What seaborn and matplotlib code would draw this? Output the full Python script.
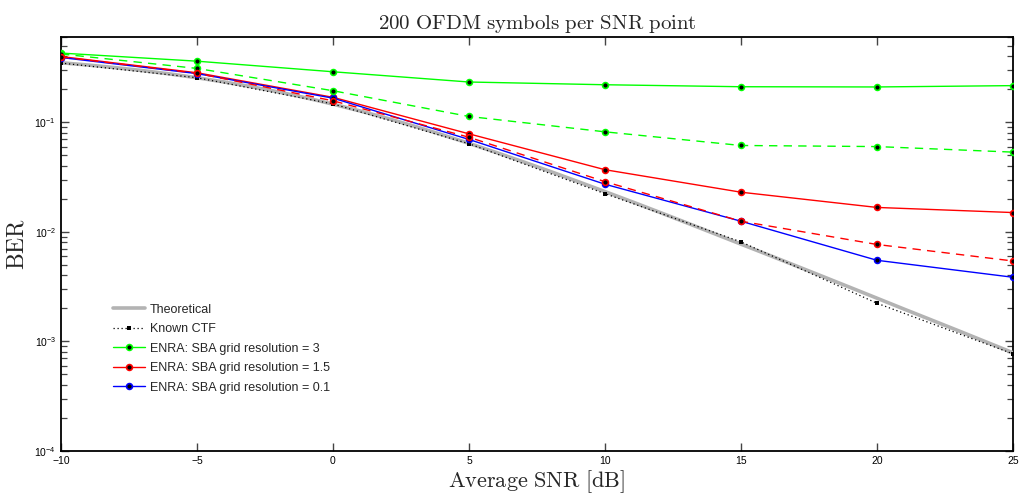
import matplotlib
matplotlib.use("Agg")
import matplotlib.pyplot as plt
import seaborn as sns
import numpy as np
import pandas as pd
from matplotlib.ticker import FixedLocator, NullFormatter, LogLocator

# ---------------- data ----------------
snr_theory = list(range(-10, 26))
ber_theory = [0.3492, 0.3328, 0.3151, 0.2961, 0.2760, 0.2549, 0.2332, 0.2111, 0.1890, 0.1673,
              0.1464, 0.1267, 0.1085, 0.0919, 0.0771, 0.0642, 0.0530, 0.0435, 0.0355, 0.0288,
              0.0233, 0.0188, 0.0151, 0.0121, 0.00967, 0.00772, 0.00617, 0.00492, 0.00392, 0.00312,
              0.00248, 0.00197, 0.00157, 0.00125, 0.000992, 0.000788]

snr_pts = [-10, -5, 0, 5, 10, 15, 20, 25]
ber_known_ctf = [0.347, 0.255, 0.147, 0.0637, 0.0223, 0.0081, 0.00223, 0.00077]
ber_res3 = [0.428, 0.361, 0.289, 0.233, 0.220, 0.211, 0.210, 0.216]
ber_res3_dashed = [0.420, 0.310, 0.194, 0.113, 0.0818, 0.0614, 0.0600, 0.0534]
ber_res15 = [0.398, 0.283, 0.169, 0.0784, 0.0369, 0.0230, 0.0167, 0.0150]
ber_res15_dashed = [0.395, 0.280, 0.157, 0.0730, 0.0287, 0.0125, 0.00767, 0.00542]
ber_res01 = [0.390, 0.278, 0.166, 0.0697, 0.0272, 0.0125, 0.0055, 0.00385]

x_ticks = [-10, -5, 0, 5, 10, 15, 20, 25]
y_major_ticks = [1e-4, 1e-3, 1e-2, 1e-1]

# ---------------- style ----------------
sns.set_style("ticks")
plt.rcParams["font.family"] = ["Liberation Sans", "DejaVu Sans"]
plt.rcParams["mathtext.fontset"] = "custom"
plt.rcParams["mathtext.rm"] = "Liberation Sans"
plt.rcParams["mathtext.it"] = "Liberation Sans:italic"
plt.rcParams["axes.unicode_minus"] = True

fig = plt.figure(figsize=(10.23, 4.97), dpi=100)
ax = fig.add_axes([61 / 1023, 1 - 451 / 497, 952 / 1023, 414 / 497])

df_t = pd.DataFrame({"snr": snr_theory, "ber": ber_theory})
sns.lineplot(data=df_t, x="snr", y="ber", ax=ax, color="#b3b3b3", lw=2.6,
             label="Theoretical", zorder=2)

df_k = pd.DataFrame({"snr": snr_pts, "ber": ber_known_ctf})
sns.lineplot(data=df_k, x="snr", y="ber", ax=ax, color="black", lw=0.9,
             linestyle=(0, (1, 2.2)), marker="s", markersize=2.8, markeredgewidth=0,
             markerfacecolor="black", label="Known CTF", zorder=3)

series = [
    (ber_res3, "#00ff00", "-", "ENRA: SBA grid resolution = 3"),
    (ber_res15, "#ff0000", "-", "ENRA: SBA grid resolution = 1.5"),
    (ber_res01, "#0000ff", "-", "ENRA: SBA grid resolution = 0.1"),
    (ber_res3_dashed, "#00ff00", (0, (6, 4.5)), "_nolegend_"),
    (ber_res15_dashed, "#ff0000", (0, (6, 4.5)), "_nolegend_"),
]
for vals, col, ls, lab in series:
    d = pd.DataFrame({"snr": snr_pts, "ber": vals})
    sns.lineplot(data=d, x="snr", y="ber", ax=ax, color=col, lw=1.0, linestyle=ls,
                 marker="o", markersize=4.2, markerfacecolor="black", markeredgecolor=col,
                 markeredgewidth=1.2, label=lab, zorder=4)

ax.set_yscale("log")
ax.xaxis.set_major_locator(FixedLocator(x_ticks))
ax.yaxis.set_major_locator(FixedLocator(y_major_ticks))
ax.yaxis.set_minor_locator(LogLocator(base=10.0, subs=(2, 3, 4, 5, 6, 7, 8, 9), numticks=50))
ax.yaxis.set_minor_formatter(NullFormatter())
ax.set_xlim(-10, 25)
ax.set_ylim(1e-4, 0.6)

ax.tick_params(axis="both", which="both", direction="in", top=True, right=True,
               colors="#444444", labelcolor="black", labelsize=7.5)
ax.tick_params(axis="x", which="major", length=6, width=1.0)
ax.tick_params(axis="y", which="major", length=5.5, width=1.0)
ax.tick_params(axis="y", which="minor", length=4, width=0.9, left=True, right=True)
for sp in ax.spines.values():
    sp.set_linewidth(1.3)
    sp.set_color("black")
    sp.set_visible(True)
    sp.set_zorder(1)

ax.set_title(r"$\mathrm{200\ OFDM\ symbols\ per\ SNR\ point}$", fontsize=15,
             math_fontfamily="cm", pad=6)
ax.set_xlabel(r"$\mathrm{Average\ SNR\ [dB]}$", fontsize=16, math_fontfamily="cm", labelpad=2)
ax.set_ylabel(r"$\mathrm{BER}$", fontsize=17, math_fontfamily="cm", labelpad=4)

leg = ax.legend(loc="upper left", bbox_to_anchor=(0.049, 0.368), frameon=False,
                fontsize=9, handlelength=2.56, labelspacing=0.6, handletextpad=0.4,
                borderaxespad=0)

fig.savefig("out.png", dpi=100)
